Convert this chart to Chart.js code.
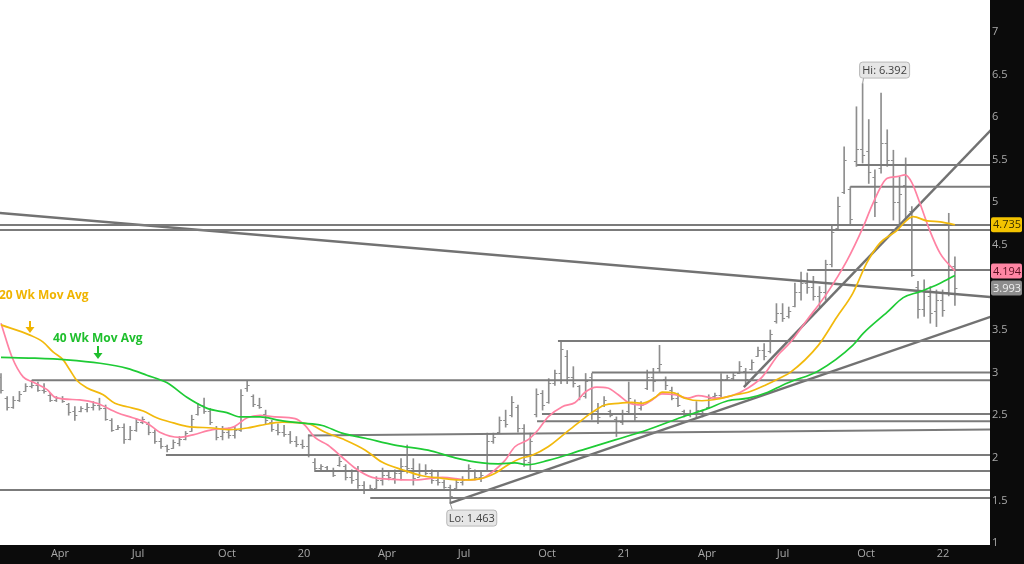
<!DOCTYPE html>
<html>
<head>
<meta charset="utf-8">
<script src="https://cdn.jsdelivr.net/npm/chart.js@4.4.1/dist/chart.umd.min.js"></script>
<style>
  html, body { margin: 0; padding: 0; background: #0b0b0b; }
  #wrap { width: 1024px; height: 564px; }
</style>
</head>
<body>
<div id="wrap"><canvas id="chart"></canvas></div>
<script>
// Weekly OHLC, one entry per week (week 0 = late Jan 2019)
const highs = [2.99,2.72,2.72,2.78,2.87,2.91,2.89,2.87,2.76,2.72,2.72,2.64,2.60,2.60,2.64,2.66,2.70,2.62,2.46,2.38,
  2.40,2.37,2.46,2.48,2.42,2.33,2.23,2.15,2.21,2.25,2.31,2.50,2.64,2.70,2.58,2.37,2.37,2.35,2.37,2.80,
  2.91,2.74,2.70,2.56,2.44,2.40,2.38,2.31,2.25,2.21,2.27,1.99,1.92,1.90,1.88,2.01,1.92,1.86,1.90,1.72,
  1.68,1.78,1.88,1.84,1.86,1.99,2.15,1.99,1.93,1.92,1.86,1.84,1.74,1.68,1.76,1.78,1.92,1.86,1.84,2.29,
  2.29,2.48,2.56,2.72,2.62,2.39,2.29,2.81,2.79,2.93,3.03,3.36,3.26,3.07,2.85,2.99,2.99,2.64,2.72,2.56,
  2.48,2.56,2.89,2.68,2.66,3.03,3.05,3.32,2.95,2.83,2.76,2.56,2.56,2.66,2.56,2.74,2.76,2.99,2.97,2.99,
  3.13,3.05,3.15,3.30,3.34,3.50,3.81,3.81,3.77,4.05,4.18,4.17,4.13,4.01,4.32,4.73,5.06,5.65,5.18,6.12,
  6.392,5.97,5.38,6.28,5.85,5.61,5.30,5.52,4.95,4.07,4.09,4.01,3.97,3.97,4.87,4.36];
const lows = [2.76,2.56,2.58,2.66,2.78,2.82,2.78,2.76,2.66,2.66,2.65,2.50,2.44,2.54,2.54,2.56,2.56,2.44,2.31,2.33,
  2.17,2.21,2.31,2.40,2.27,2.17,2.11,2.07,2.11,2.14,2.21,2.31,2.50,2.52,2.39,2.21,2.21,2.23,2.23,2.31,
  2.78,2.60,2.58,2.40,2.31,2.27,2.25,2.17,2.13,2.11,2.01,1.86,1.86,1.84,1.78,1.90,1.74,1.70,1.64,1.58,
  1.62,1.64,1.68,1.74,1.70,1.74,1.82,1.68,1.78,1.80,1.70,1.68,1.64,1.463,1.64,1.68,1.74,1.74,1.72,1.86,
  2.17,2.29,2.36,2.48,2.30,1.90,1.86,2.48,2.56,2.64,2.85,2.87,2.87,2.83,2.68,2.70,2.45,2.40,2.60,2.48,
  2.25,2.39,2.52,2.44,2.56,2.80,2.78,3.01,2.80,2.68,2.60,2.48,2.48,2.46,2.48,2.58,2.70,2.70,2.91,2.91,
  2.99,2.87,3.03,3.19,3.15,3.23,3.58,3.60,3.64,3.77,3.85,3.93,3.85,3.77,3.85,4.24,4.67,5.10,4.73,5.42,
  5.46,5.22,4.83,5.34,5.42,4.79,4.71,4.79,4.13,3.64,3.66,3.58,3.54,3.66,3.90,3.79];
const opens = [2.95,2.70,2.60,2.68,2.79,2.84,2.86,2.80,2.74,2.68,2.70,2.63,2.55,2.55,2.57,2.60,2.62,2.58,2.44,2.34,
  2.36,2.22,2.33,2.42,2.40,2.30,2.20,2.14,2.12,2.17,2.22,2.32,2.52,2.62,2.55,2.34,2.26,2.30,2.27,2.33,
  2.82,2.72,2.62,2.52,2.42,2.33,2.30,2.28,2.20,2.16,2.14,1.95,1.88,1.89,1.86,1.91,1.90,1.78,1.75,1.68,
  1.63,1.65,1.74,1.80,1.76,1.82,1.90,1.88,1.78,1.85,1.82,1.74,1.72,1.66,1.65,1.72,1.75,1.85,1.78,1.86,
  2.20,2.30,2.44,2.50,2.60,2.35,1.95,2.52,2.76,2.66,2.88,3.00,3.20,2.95,2.84,2.72,2.95,2.55,2.62,2.55,
  2.46,2.42,2.55,2.66,2.58,2.82,2.95,3.05,2.92,2.80,2.70,2.55,2.50,2.52,2.55,2.60,2.72,2.74,2.93,2.94,
  3.00,3.02,3.04,3.20,3.27,3.25,3.60,3.70,3.66,3.78,3.95,4.05,4.00,3.90,3.95,4.28,4.70,5.12,5.15,5.48,
  5.62,5.60,5.30,5.40,5.70,5.50,5.00,5.20,4.90,4.00,3.75,3.90,3.72,3.85,3.95,4.25];
const closes = [2.80,2.60,2.68,2.75,2.84,2.86,2.80,2.78,2.68,2.70,2.67,2.54,2.50,2.58,2.60,2.62,2.58,2.46,2.33,2.36,
  2.22,2.33,2.42,2.45,2.30,2.20,2.14,2.10,2.18,2.22,2.29,2.45,2.60,2.55,2.42,2.25,2.30,2.27,2.33,2.74,
  2.85,2.63,2.60,2.44,2.34,2.30,2.28,2.20,2.16,2.14,2.04,1.88,1.90,1.86,1.80,1.96,1.77,1.74,1.68,1.62,
  1.65,1.74,1.80,1.77,1.82,1.90,1.88,1.76,1.85,1.82,1.74,1.72,1.66,1.55,1.72,1.74,1.88,1.78,1.80,2.20,
  2.25,2.44,2.40,2.66,2.35,1.98,2.20,2.75,2.62,2.88,3.00,3.28,2.95,2.88,2.72,2.90,2.55,2.48,2.68,2.50,
  2.30,2.52,2.70,2.48,2.62,2.95,2.90,3.10,2.85,2.70,2.62,2.50,2.53,2.56,2.52,2.70,2.74,2.92,2.95,2.97,
  3.08,2.92,3.12,3.27,3.20,3.45,3.70,3.64,3.72,3.95,4.05,4.00,3.90,3.95,4.28,4.65,4.95,5.50,4.80,5.62,
  5.55,5.35,5.00,5.70,5.50,5.00,5.10,5.45,4.15,3.75,3.95,3.70,3.85,3.73,4.25,3.993];

// Moving averages: [week, value]
const ma10 = [[0,3.58],[1.8,3.18],[3.6,2.95],[5.2,2.89],[7.5,2.80],[8.8,2.71],[12.8,2.68],[15.6,2.64],[18.9,2.53],
  [21.4,2.47],[23.7,2.41],[25.8,2.30],[29,2.24],[31.2,2.27],[34.4,2.33],[37.7,2.36],[40,2.47],[42.1,2.50],[44.5,2.48],
  [47.8,2.46],[49.4,2.38],[51,2.24],[53.1,2.15],[55.4,2.01],[57.5,1.88],[60.3,1.77],[62.9,1.75],[67.3,1.74],[71.7,1.77],
  [75.9,1.74],[78.2,1.76],[80.3,1.86],[81.9,1.97],[83.5,2.13],[85.6,2.21],[87.3,2.33],[88.9,2.48],[91.2,2.60],[93.3,2.65],
  [94.9,2.77],[96.8,2.83],[98.6,2.82],[100.3,2.74],[101.9,2.65],[104.2,2.62],[105.8,2.68],[107.4,2.75],[109.5,2.74],
  [111.6,2.70],[113.3,2.73],[116,2.70],[118.8,2.73],[121.4,2.82],[123.7,2.95],[126.3,3.21],[128.2,3.35],[131,3.62],
  [134.2,3.93],[137.5,4.32],[140.1,4.71],[141.7,4.99],[144,5.28],[145.6,5.30],[146.9,5.32],[148,5.23],[149.3,4.99],
  [150.9,4.67],[152.6,4.40],[155,4.194]];
const ma20 = [[0,3.56],[4.7,3.44],[6.8,3.36],[8.5,3.24],[10.1,3.15],[11.2,3.03],[12.3,2.91],[14,2.82],[16.6,2.74],
  [18.5,2.64],[20.5,2.60],[23.1,2.55],[25.3,2.47],[28,2.41],[30.2,2.37],[34.4,2.35],[37.2,2.33],[40,2.35],[42.1,2.38],
  [45.7,2.42],[49.9,2.40],[52.7,2.30],[55.9,2.21],[59.2,2.09],[61.9,1.95],[65.2,1.86],[68.4,1.79],[71.7,1.76],[74.3,1.74],
  [77.5,1.75],[80.3,1.82],[82.4,1.92],[84.3,1.99],[86.3,2.03],[88.9,2.13],[91.7,2.29],[93.8,2.41],[96,2.53],[98.1,2.62],
  [100.3,2.64],[102.5,2.65],[104.2,2.64],[106.3,2.71],[107.4,2.77],[109.5,2.76],[111.1,2.70],[113.9,2.67],[116.5,2.69],
  [119.3,2.74],[121.4,2.77],[124.1,2.85],[126.9,2.95],[128.2,3.00],[132.8,3.32],[135.8,3.65],[138.4,3.93],[140.7,4.29],
  [142.8,4.52],[145.6,4.67],[147.2,4.79],[148.2,4.83],[150.5,4.78],[152.6,4.77],[155,4.735]];
const ma40 = [[0,3.18],[5.2,3.17],[10.7,3.15],[16.1,3.11],[20.5,3.05],[23.7,2.97],[27,2.88],[30.2,2.71],[33.5,2.58],
  [36.7,2.53],[38.8,2.48],[42.1,2.48],[45.3,2.44],[48.6,2.41],[52.2,2.38],[55.4,2.29],[59.2,2.23],[64,2.15],[69.4,2.09],
  [73.8,2.00],[78.2,1.94],[80.8,1.93],[83.5,1.94],[85.6,1.92],[88.9,1.97],[94.4,2.09],[99.8,2.21],[105.1,2.33],
  [110.7,2.48],[114.9,2.58],[118.1,2.67],[121.4,2.70],[124.6,2.77],[126.9,2.85],[128.2,2.89],[132.8,3.02],[138.4,3.32],
  [140.1,3.46],[144,3.71],[146.6,3.88],[149.3,3.95],[152.6,4.05],[155,4.14]];

// Drawn support / resistance levels: start week and price
const hLineStarts = [-1, -1, 139.1, 138, 131, 90.5, 96, 5, 87.9, 87.1, 26.8, 50.9, -1, 60];
const hLineLevels = [4.732, 4.674, 5.437, 5.18, 4.204, 3.37, 3.0, 2.91, 2.515, 2.43, 2.033, 1.845, 1.622, 1.528];
const slantLevel = [49.9, 2.262, 161, 2.332];
// Trend lines: [startWeek, startPrice, endWeek, endPrice]
const trendLines = [[-1, 4.878, 161, 3.885], [72.96, 1.469, 161, 3.66], [120.7, 2.831, 161, 5.858]];

// Axis ticks
const tickWeeks = [9.59, 22.26, 36.72, 49.24, 62.72, 75.24, 88.72, 101.24, 114.72, 127.07, 140.56, 153.07];
const tickLabels = ['Apr', 'Jul', 'Oct', '20', 'Apr', 'Jul', 'Oct', '21', 'Apr', 'Jul', 'Oct', '22'];
const yTicks = [1, 1.5, 2, 2.5, 3, 3.5, 4, 4.5, 5, 5.5, 6, 6.5, 7];

const FONT = '"Open Sans", "DejaVu Sans", sans-serif';
const barColor = '#8e8e8e';
const levelColor = '#7b7b7b';
const pink = '#ff82a3';
const yellow = '#f2b90c';
const green = '#1ecb35';

const bgPlugin = {
  id: 'bg',
  beforeDraw(chart) {
    const {ctx, chartArea: a} = chart;
    ctx.save();
    ctx.fillStyle = '#0b0b0b';
    ctx.fillRect(0, 0, chart.width, chart.height);
    ctx.fillStyle = '#ffffff';
    ctx.fillRect(a.left, a.top, a.right - a.left, a.bottom - a.top);
    ctx.restore();
  }
};

// open/close ticks on the weekly bars
const ohlcTicks = {
  id: 'ohlcTicks',
  afterDatasetDraw(chart, args) {
    if (args.meta.type !== 'bar') return;
    const {ctx, scales: {x, y}} = chart;
    ctx.save();
    ctx.strokeStyle = barColor;
    ctx.lineWidth = 1;
    ctx.beginPath();
    opens.forEach((o, i) => {
      const px = x.getPixelForValue(i);
      const yo = Math.round(y.getPixelForValue(o)) + 0.5;
      const yc = Math.round(y.getPixelForValue(closes[i])) + 0.5;
      ctx.moveTo(px - 2.5, yo); ctx.lineTo(px, yo);
      ctx.moveTo(px, yc); ctx.lineTo(px + 2.5, yc);
    });
    ctx.stroke();
    ctx.restore();
  }
};

function roundRect(ctx, x, y, w, h, r) {
  ctx.beginPath();
  ctx.moveTo(x + r, y);
  ctx.lineTo(x + w - r, y); ctx.quadraticCurveTo(x + w, y, x + w, y + r);
  ctx.lineTo(x + w, y + h - r); ctx.quadraticCurveTo(x + w, y + h, x + w - r, y + h);
  ctx.lineTo(x + r, y + h); ctx.quadraticCurveTo(x, y + h, x, y + h - r);
  ctx.lineTo(x, y + r); ctx.quadraticCurveTo(x, y, x + r, y);
  ctx.closePath();
}

function arrowDown(ctx, x, y0, y1, color) {
  ctx.strokeStyle = color; ctx.fillStyle = color; ctx.lineWidth = 2;
  ctx.beginPath(); ctx.moveTo(x, y0); ctx.lineTo(x, y1 - 4); ctx.stroke();
  ctx.beginPath(); ctx.moveTo(x - 4.5, y1 - 6); ctx.lineTo(x + 4.5, y1 - 6); ctx.lineTo(x, y1); ctx.closePath(); ctx.fill();
}

const annotations = {
  id: 'annotations',
  afterDraw(chart) {
    const {ctx, chartArea: a, scales: {x, y}} = chart;
    ctx.save();

    // price axis labels
    ctx.font = '11px ' + FONT;
    ctx.fillStyle = '#ababab';
    ctx.textAlign = 'left';
    ctx.textBaseline = 'middle';
    yTicks.forEach(v => ctx.fillText(String(v), a.right + 2, y.getPixelForValue(v)));

    // last value boxes
    const boxes = [
      {v: ma20[ma20.length - 1][1], bg: '#f3c300', fg: '#3a3000'},
      {v: ma10[ma10.length - 1][1], bg: '#ff86a4', fg: '#5a1020'},
      {v: closes[closes.length - 1], bg: '#8d8d8d', fg: '#f0f0f0'}
    ];
    boxes.forEach(b => {
      const py = y.getPixelForValue(b.v);
      ctx.fillStyle = b.bg;
      roundRect(ctx, a.right + 1, py - 7.5, 31, 15, 2);
      ctx.fill();
      ctx.fillStyle = b.fg;
      ctx.fillText(b.v.toFixed(3), a.right + 3, py + 0.5);
    });

    // Hi / Lo callouts
    const hi = Math.max(...highs), hiI = highs.indexOf(hi);
    const lo = Math.min(...lows), loI = lows.indexOf(lo);
    const hx = x.getPixelForValue(hiI), hy = y.getPixelForValue(hi);
    const lx = x.getPixelForValue(loI), ly = y.getPixelForValue(lo);
    ctx.strokeStyle = '#9a9a9a'; ctx.lineWidth = 1;
    ctx.beginPath(); ctx.moveTo(hx, hy); ctx.lineTo(hx + 1, hy - 6); ctx.stroke();
    ctx.beginPath(); ctx.moveTo(lx, ly); ctx.lineTo(lx + 2, ly + 6); ctx.stroke();
    ctx.font = '11px ' + FONT;
    ctx.textAlign = 'center';
    [[hx - 3.5, hy - 22, 'Hi: ' + hi.toFixed(3)], [lx - 4, ly + 6, 'Lo: ' + lo.toFixed(3)]].forEach(([bx, by, t]) => {
      ctx.fillStyle = '#e6e6e6';
      ctx.strokeStyle = '#b8b8b8';
      roundRect(ctx, bx + 0.5, by + 0.5, 50, 16, 3);
      ctx.fill(); ctx.stroke();
      ctx.fillStyle = '#404040';
      ctx.fillText(t, bx + 25.5, by + 9);
    });

    // moving average notes
    ctx.textAlign = 'left';
    ctx.font = 'bold 12px ' + FONT;
    ctx.fillStyle = '#f0b400';
    ctx.fillText('20 Wk Mov Avg', a.left - 1, 296);
    ctx.fillStyle = '#1fbf2d';
    ctx.fillText('40 Wk Mov Avg', a.left + 53, 339);
    arrowDown(ctx, a.left + 30, 321, 333, '#f0b400');
    arrowDown(ctx, a.left + 98, 346, 359, '#1fbf2d');

    ctx.restore();
  }
};

const levelSets = hLineLevels.map((lvl, i) => ({
  type: 'line',
  data: [{x: hLineStarts[i], y: lvl}, {x: 161, y: lvl}],
  borderColor: levelColor, borderWidth: 2, pointRadius: 0, order: 2
}));
levelSets.push({
  type: 'line',
  data: [{x: slantLevel[0], y: slantLevel[1]}, {x: slantLevel[2], y: slantLevel[3]}],
  borderColor: levelColor, borderWidth: 2, pointRadius: 0, order: 2
});
const trendSets = trendLines.map(t => ({
  type: 'line',
  data: [{x: t[0], y: t[1]}, {x: t[2], y: t[3]}],
  borderColor: '#727272', borderWidth: 2.5, pointRadius: 0, order: 2
}));
const maSet = (pts, color) => ({
  type: 'line',
  data: pts.map(p => ({x: p[0], y: p[1]})),
  borderColor: color, borderWidth: 1.7, pointRadius: 0,
  cubicInterpolationMode: 'monotone', order: 1
});

new Chart(document.getElementById('chart'), {
  type: 'bar',
  data: {
    datasets: [
      {
        type: 'bar',
        data: highs.map((h, i) => ({x: i, y: [lows[i], h]})),
        backgroundColor: barColor,
        barThickness: 1,
        order: 3
      },
      ...levelSets,
      ...trendSets,
      maSet(ma40, green),
      maSet(ma20, yellow),
      maSet(ma10, pink)
    ]
  },
  options: {
    responsive: true,
    maintainAspectRatio: false,
    animation: false,
    events: [],
    layout: { padding: { right: 34 } },
    plugins: { legend: { display: false }, tooltip: { enabled: false } },
    scales: {
      x: {
        type: 'linear',
        min: -0.16,
        max: 160.7,
        offset: false,
        grid: { display: false, drawTicks: false },
        border: { display: false },
        afterBuildTicks: s => { s.ticks = tickWeeks.map(v => ({value: v})); },
        afterFit: s => { s.height = 19; },
        ticks: {
          autoSkip: false, maxRotation: 0, padding: 2,
          color: '#a9a9a9',
          font: { family: FONT, size: 11 },
          callback: (v, i) => tickLabels[i]
        }
      },
      y: {
        type: 'linear',
        display: false,
        min: 0.977,
        max: 7.373
      }
    }
  },
  plugins: [bgPlugin, ohlcTicks, annotations]
});
</script>
</body>
</html>
